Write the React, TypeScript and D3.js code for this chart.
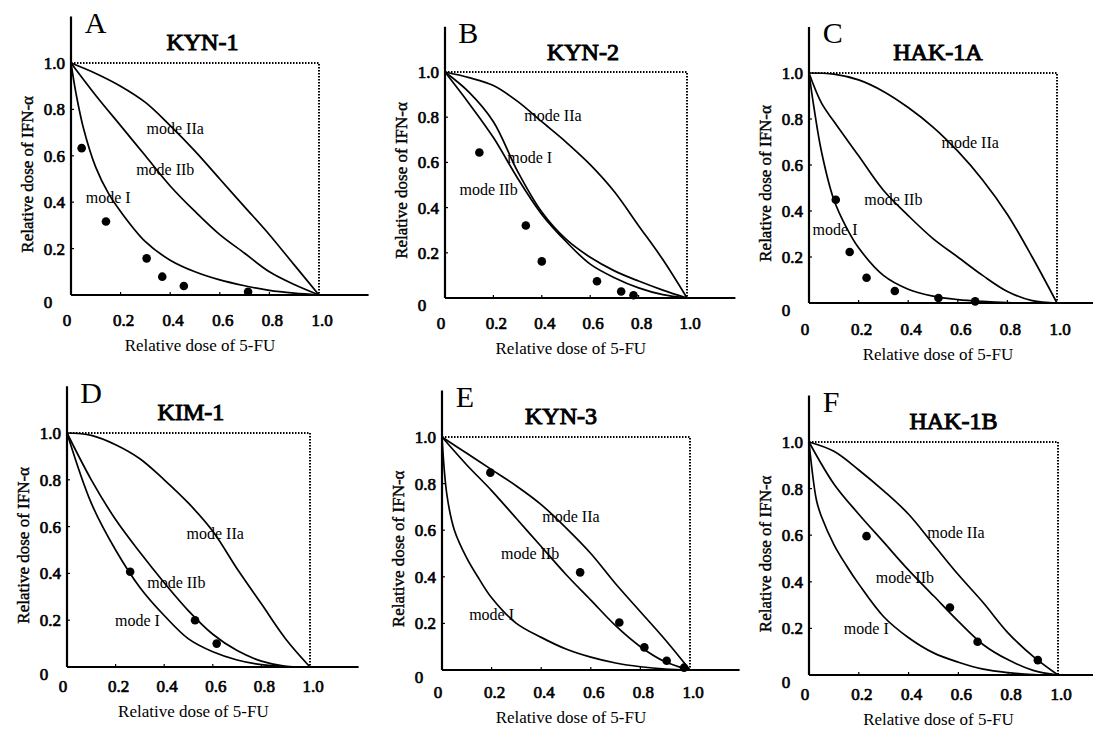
import React from 'react';
import * as d3 from 'd3';

// panel letters and cell line names
const LETTERS = ['A', 'B', 'C', 'D', 'E', 'F'];
const TITLES = ['KYN-1', 'KYN-2', 'HAK-1A', 'KIM-1', 'KYN-3', 'HAK-1B'];
const TICKS = [0, 0.2, 0.4, 0.6, 0.8, 1.0];
const TICK_LABELS = ['0', '0.2', '0.4', '0.6', '0.8', '1.0'];

// curves: [relative 5-FU, relative IFN-a]
const A_modeI = [[0, 1], [0.02, 0.87], [0.05, 0.72], [0.1, 0.55], [0.15, 0.44], [0.2, 0.36], [0.3, 0.23], [0.4, 0.15], [0.5, 0.1], [0.6, 0.065], [0.7, 0.04], [0.8, 0.02], [0.9, 0.008], [1, 0]];
const A_modeIIa = [[0, 1], [0.1, 0.955], [0.2, 0.9], [0.3, 0.83], [0.4, 0.73], [0.5, 0.62], [0.6, 0.5], [0.7, 0.38], [0.8, 0.26], [0.9, 0.13], [1, 0]];
const A_modeIIb = [[0, 1], [0.1, 0.86], [0.2, 0.73], [0.3, 0.6], [0.4, 0.47], [0.5, 0.36], [0.6, 0.26], [0.7, 0.18], [0.8, 0.1], [0.9, 0.045], [1, 0]];
const A_points = [[0.043, 0.633], [0.141, 0.317], [0.305, 0.158], [0.368, 0.079], [0.455, 0.039], [0.714, 0.014]];

const B_modeI = [[0, 1], [0.1, 0.91], [0.2, 0.78], [0.3, 0.56], [0.4, 0.38], [0.5, 0.26], [0.6, 0.18], [0.7, 0.12], [0.8, 0.075], [0.9, 0.035], [1, 0]];
const B_modeIIa = [[0, 1], [0.1, 0.975], [0.2, 0.94], [0.3, 0.87], [0.4, 0.78], [0.5, 0.69], [0.6, 0.59], [0.7, 0.47], [0.8, 0.32], [0.9, 0.17], [1, 0]];
const B_modeIIb = [[0, 1], [0.1, 0.86], [0.2, 0.71], [0.3, 0.53], [0.4, 0.37], [0.5, 0.25], [0.6, 0.15], [0.7, 0.09], [0.8, 0.045], [0.9, 0.015], [1, 0]];
const B_points = [[0.142, 0.644], [0.334, 0.321], [0.4, 0.162], [0.628, 0.074], [0.728, 0.029], [0.779, 0.012]];

const C_modeI = [[0, 1], [0.02, 0.85], [0.05, 0.66], [0.1, 0.45], [0.15, 0.33], [0.2, 0.24], [0.3, 0.12], [0.4, 0.06], [0.5, 0.03], [0.6, 0.015], [0.7, 0.007], [0.8, 0.002], [0.9, 0], [1, 0]];
const C_modeIIa = [[0, 1], [0.1, 0.995], [0.2, 0.97], [0.3, 0.92], [0.4, 0.85], [0.5, 0.765], [0.6, 0.66], [0.7, 0.535], [0.8, 0.385], [0.9, 0.2], [1, 0]];
const C_modeIIb = [[0, 1], [0.05, 0.87], [0.1, 0.79], [0.2, 0.64], [0.3, 0.49], [0.4, 0.38], [0.5, 0.28], [0.6, 0.2], [0.7, 0.12], [0.8, 0.05], [0.9, 0.01], [1, 0]];
const C_points = [[0.108, 0.449], [0.164, 0.222], [0.232, 0.11], [0.346, 0.052], [0.522, 0.022], [0.67, 0.007]];

const D_modeI = [[0, 1], [0.1, 0.7], [0.2, 0.5], [0.3, 0.34], [0.4, 0.22], [0.5, 0.12], [0.6, 0.065], [0.7, 0.03], [0.8, 0.01], [0.9, 0.002], [1, 0]];
const D_modeIIa = [[0, 1], [0.1, 0.99], [0.2, 0.95], [0.3, 0.89], [0.4, 0.8], [0.5, 0.7], [0.6, 0.58], [0.7, 0.42], [0.8, 0.27], [0.9, 0.12], [1, 0]];
const D_modeIIb = [[0, 1], [0.1, 0.8], [0.2, 0.63], [0.3, 0.49], [0.4, 0.36], [0.5, 0.24], [0.6, 0.14], [0.7, 0.07], [0.8, 0.025], [0.9, 0.003], [1, 0]];
const D_points = [[0.26, 0.407], [0.527, 0.2], [0.616, 0.1]];

const E_modeI = [[0, 1], [0.02, 0.75], [0.05, 0.6], [0.1, 0.48], [0.15, 0.39], [0.2, 0.31], [0.3, 0.2], [0.4, 0.14], [0.5, 0.09], [0.6, 0.055], [0.7, 0.03], [0.8, 0.014], [0.9, 0.004], [1, 0]];
const E_modeIIa = [[0, 1], [0.1, 0.93], [0.2, 0.86], [0.3, 0.79], [0.4, 0.71], [0.5, 0.61], [0.6, 0.5], [0.7, 0.37], [0.8, 0.25], [0.9, 0.13], [1, 0]];
const E_modeIIb = [[0, 1], [0.1, 0.88], [0.2, 0.77], [0.3, 0.65], [0.4, 0.53], [0.5, 0.41], [0.6, 0.3], [0.7, 0.19], [0.8, 0.1], [0.9, 0.035], [1, 0]];
const E_points = [[0.195, 0.847], [0.557, 0.419], [0.715, 0.204], [0.816, 0.097], [0.906, 0.04], [0.976, 0.01]];

const F_modeI = [[0, 1], [0.03, 0.75], [0.05, 0.68], [0.1, 0.56], [0.15, 0.47], [0.2, 0.39], [0.3, 0.25], [0.4, 0.16], [0.5, 0.095], [0.6, 0.055], [0.7, 0.025], [0.8, 0.01], [0.9, 0.002], [1, 0]];
const F_modeIIa = [[0, 1], [0.1, 0.96], [0.2, 0.88], [0.3, 0.79], [0.4, 0.69], [0.5, 0.56], [0.6, 0.43], [0.7, 0.31], [0.8, 0.18], [0.9, 0.08], [1, 0]];
const F_modeIIb = [[0, 1], [0.1, 0.82], [0.2, 0.69], [0.3, 0.57], [0.4, 0.45], [0.5, 0.34], [0.6, 0.23], [0.7, 0.13], [0.8, 0.065], [0.9, 0.02], [1, 0]];
const F_points = [[0.231, 0.596], [0.566, 0.29], [0.677, 0.143], [0.919, 0.064]];

// where the mode labels sit, in data units
const A_labels = [['mode IIa', 0.42, 0.72], ['mode IIb', 0.38, 0.54], ['mode I', 0.15, 0.42]];
const B_labels = [['mode IIa', 0.446, 0.81], ['mode I', 0.35, 0.62], ['mode IIb', 0.18, 0.48]];
const C_labels = [['mode IIa', 0.65, 0.7], ['mode IIb', 0.34, 0.45], ['mode I', 0.105, 0.32]];
const D_labels = [['mode IIa', 0.61, 0.57], ['mode IIb', 0.45, 0.36], ['mode I', 0.29, 0.2]];
const E_labels = [['mode IIa', 0.52, 0.66], ['mode IIb', 0.355, 0.5], ['mode I', 0.2, 0.24]];
const F_labels = [['mode IIa', 0.59, 0.61], ['mode IIb', 0.385, 0.42], ['mode I', 0.23, 0.2]];

const CURVES = [
  [A_modeI, A_modeIIa, A_modeIIb],
  [B_modeI, B_modeIIa, B_modeIIb],
  [C_modeI, C_modeIIa, C_modeIIb],
  [D_modeI, D_modeIIa, D_modeIIb],
  [E_modeI, E_modeIIa, E_modeIIb],
  [F_modeI, F_modeIIa, F_modeIIb],
];
const POINTS = [A_points, B_points, C_points, D_points, E_points, F_points];
const LABELS = [A_labels, B_labels, C_labels, D_labels, E_labels, F_labels];

// pixel frame of each panel: where 0 and 1.0 fall
const LAYOUT = [
  { x0: 71, x1: 319, y0: 295, y1: 63, tickGap: 25, titleX: 0.53 },
  { x0: 445, x1: 687, y0: 298, y1: 72, tickGap: 25, titleX: 0.57 },
  { x0: 809, x1: 1057, y0: 303, y1: 73, tickGap: 26, titleX: 0.52 },
  { x0: 67, x1: 310, y0: 667, y1: 433, tickGap: 19, titleX: 0.51 },
  { x0: 442, x1: 690, y0: 670, y1: 437, tickGap: 22, titleX: 0.48 },
  { x0: 809, x1: 1058, y0: 675, y1: 442, tickGap: 19, titleX: 0.58 },
];

const SERIF = 'Liberation Serif, DejaVu Serif, serif';
// bold look: regular face with a thin outline (the serif bold face may be missing)
const BOLD = { stroke: '#000', strokeWidth: 0.7 };

function Panel({ i }: { i: number }) {
  const L = LAYOUT[i];
  const x = d3.scaleLinear().domain([0, 1]).range([L.x0, L.x1]);
  const y = d3.scaleLinear().domain([0, 1]).range([L.y0, L.y1]);
  const line = d3.line<number[]>().x(d => x(d[0])).y(d => y(d[1])).curve(d3.curveCatmullRom.alpha(0.5));
  const box = d3.line<number[]>().x(d => x(d[0])).y(d => y(d[1]));

  return (
    <g>
      {/* axes */}
      <line x1={x(0)} x2={x(1.2)} y1={y(0)} y2={y(0)} stroke="#000" strokeWidth={2.2} />
      <line x1={x(0)} x2={x(0)} y1={y(0)} y2={y(1.2)} stroke="#000" strokeWidth={2.2} />
      {TICKS.slice(1, 5).map(t => (
        <g key={t}>
          <line x1={x(t)} x2={x(t)} y1={y(0)} y2={y(0) - 3} stroke="#000" strokeWidth={1.2} />
          <line x1={x(0)} x2={x(0) + 3} y1={y(t)} y2={y(t)} stroke="#000" strokeWidth={1.2} />
        </g>
      ))}
      {/* dotted 1.0 box */}
      <path d={box([[0, 1], [1, 1], [1, 0]]) || ''} fill="none" stroke="#000" strokeWidth={2} strokeDasharray="1.5 1.5" />

      {CURVES[i].map((c, k) => (
        <path key={k} d={line(c) || ''} fill="none" stroke="#000" strokeWidth={1.7} />
      ))}
      {POINTS[i].map((p, k) => (
        <circle key={k} cx={x(p[0])} cy={y(p[1])} r={4.3} fill="#000" />
      ))}

      {LABELS[i].map((l, k) => (
        <text key={k} x={x(l[1] as number)} y={y(l[2] as number)} dy="0.35em" textAnchor="middle"
          fontFamily={SERIF} fontSize={16}>{l[0]}</text>
      ))}

      {/* tick labels */}
      {TICKS.map((t, k) => (
        <text key={'x' + t} x={x(t) + (k === 0 ? -4 : 3)} y={y(0) + L.tickGap} dy="0.35em" textAnchor="middle"
          fontFamily={SERIF} fontSize={17} {...BOLD}>{TICK_LABELS[k]}</text>
      ))}
      {TICKS.map((t, k) => (
        <text key={'y' + t} x={k === 0 ? x(0) - 23 : x(0) - 6} y={y(t) + (k === 0 ? 7 : 0)} dy="0.35em"
          textAnchor={k === 0 ? 'middle' : 'end'} fontFamily={SERIF} fontSize={17} {...BOLD}>{TICK_LABELS[k]}</text>
      ))}

      {/* axis titles */}
      <text x={x(0.52)} y={y(0) + L.tickGap + 25} dy="0.35em" textAnchor="middle"
        fontFamily={SERIF} fontSize={17}>Relative dose of 5-FU</text>
      <text transform={`translate(${x(0) - 44},${y(0.52)}) rotate(-90)`} dy="0.35em" textAnchor="middle"
        fontFamily={SERIF} fontSize={17} {...BOLD} strokeWidth={0.4}>Relative dose of IFN-α</text>

      {/* panel letter and title */}
      <text x={x(0.055)} y={y(1.13)} fontFamily={SERIF} fontSize={30}>{LETTERS[i]}</text>
      <text x={x(L.titleX)} y={y(1.055)} textAnchor="middle" fontFamily={SERIF} fontSize={24} {...BOLD} strokeWidth={1}>{TITLES[i]}</text>
    </g>
  );
}

export default function App() {
  return (
    <svg width={1093} height={729} style={{ position: 'absolute', left: 0, top: 0, background: '#fff' }}>
      <rect width={1093} height={729} fill="#fff" />
      {LETTERS.map((_, i) => <Panel key={i} i={i} />)}
    </svg>
  );
}
